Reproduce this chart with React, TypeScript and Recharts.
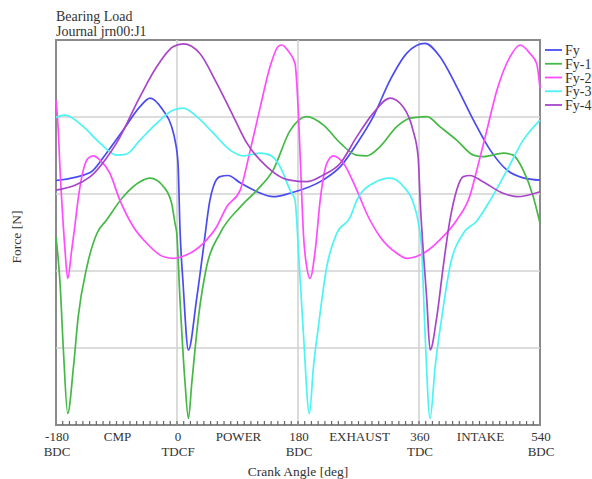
import { LineChart, Line, XAxis, YAxis, ReferenceLine, ReferenceArea } from 'recharts'

// crank angle [deg], force (chart has no force scale, 0..100 relative)
const FY: [number, number][] = [
  [-180, 63.5], [-129, 65.6], [-105, 70.6], [-80, 76.6], [-55, 82.7], [-40, 84.9], [-21, 81.8],
  [-8, 77.5], [-3, 74], [1.5, 68], [4.5, 50.6], [9, 36.9], [17, 19.5], [29, 32.5], [39, 45.5],
  [49, 58.4], [54, 61.9], [64, 64.5], [76, 64.8], [94, 62.9], [119, 60.6], [143, 59.3], [168, 60.2],
  [217, 63.6], [243, 67.1], [268, 73.2], [292, 80.1], [317, 89.6], [342, 96.6], [369, 99.1],
  [391, 95.7], [416, 87.9], [441, 79.2], [466, 71.4], [491, 66.2], [515, 64.2], [540, 63.6],
]

const FY1: [number, number][] = [
  [-180, 48.9], [-174, 36.9], [-169, 19.5], [-162.6, 3.0], [-154, 15.1], [-147, 28.1], [-134, 41.1],
  [-119, 49.8], [-105, 53.2], [-80, 59.3], [-55, 63.2], [-40, 64.1], [-20, 61.9], [-8, 57.6],
  [-3, 52.4], [-0.4, 49.8], [4.5, 32.5], [12, 10.9], [17, 1.7], [22, 10.9], [32, 28.1], [44, 41.1],
  [64, 49.8], [94, 56.6], [119, 61], [143, 66.2], [168, 76.4], [193, 80.1], [218, 77.9], [243, 73.2],
  [267, 70.1], [282, 69.9], [302, 72.3], [327, 77.5], [347, 79.7], [372, 80.1], [391, 77.5],
  [416, 74], [441, 70.1], [456, 69.7], [486, 70.6], [500, 70.1], [515, 66.2], [530, 59.3], [540, 52.4],
]

const FY2: [number, number][] = [
  [-180, 84.4], [-176.6, 76.6], [-174, 66.2], [-171.5, 58.4], [-166.6, 45.5], [-162.6, 38.1],
  [-156.6, 45.5], [-151.7, 52], [-146.8, 59], [-139.4, 66.2], [-132, 69.3], [-124.5, 69.9],
  [-114.5, 68.8], [-100, 65.4], [-85, 58.4], [-65, 51.5], [-45, 47.2], [-20, 43.7], [-5, 43.3],
  [14.5, 44.2], [39, 47.2], [59, 51.5], [74, 56.7], [94, 61], [109, 71.4], [124, 82.7], [138.5, 93.1],
  [151, 98.4], [156, 98.7], [166, 97], [175.6, 93.9], [180.6, 81], [185.6, 59.3], [188, 49.8],
  [193, 41.1], [198, 38.1], [205.7, 45.5], [213, 58.4], [223, 68], [232.6, 69.9], [247.5, 68],
  [267.5, 61], [282, 55], [302, 48.9], [327, 44.6], [342, 43.3], [366.6, 44.6], [391, 48.1],
  [416, 53.2], [436, 59.7], [446, 66.2], [461, 76.6], [476, 87], [495.6, 95.7], [510.5, 98.7],
  [525, 96.5], [535, 93.9], [540, 87.4],
]

const FY3: [number, number][] = [
  [-180, 79.9], [-166.6, 80.5], [-139.4, 77.5], [-114.5, 73.2], [-89.7, 70.1], [-74.8, 70.4],
  [-55, 74], [-30, 78.4], [-5.4, 81.8], [9.4, 82.3], [29.4, 80.1], [54, 75.8], [79, 71.4], [98.7, 69.9],
  [123.6, 70.6], [138.5, 70.1], [153.3, 67.1], [168.2, 61], [175.6, 58.4], [180.6, 45.5], [188, 23.9],
  [196.9, 3.0], [203, 15.1], [210.3, 25.5], [222.8, 41.1], [237.7, 49.8], [257.5, 53.9], [267.5, 58.4],
  [292, 62.8], [317, 64.1], [337, 61.9], [351.7, 57.6], [359.2, 52.4], [364, 45.5], [369, 23.9],
  [376.5, 1.7], [384, 15.1], [394, 28.1], [406, 41.1], [426, 49.8], [446, 53], [466, 58.4],
  [491, 66.2], [515, 74], [540, 79.2],
]

const FY4: [number, number][] = [
  [-180, 61], [-129, 64.5], [-105, 69.3], [-90, 73.2], [-55, 85.3], [-30, 93.1], [-5.4, 98.3],
  [9.4, 99], [34, 96.5], [59, 88.8], [84, 80.1], [104, 73.2], [133.5, 67.1], [158, 64.1], [168, 63.6],
  [193, 63.2], [217, 64.9], [243, 68], [267.5, 74.9], [292, 81], [317, 84.9], [336, 82.7], [351, 76.6],
  [358.7, 69.7], [361.7, 58.4], [371.6, 32.5], [376.5, 19.5], [386.5, 28.1], [396, 41.1], [406, 53.2],
  [416, 61], [426, 64.5], [436, 64.8], [455, 63.2], [485, 60.2], [505.6, 59.3], [540, 60.6],
]

const SERIES = [
  { name: 'Fy', color: '#4b4bf2', pts: FY },
  { name: 'Fy-1', color: '#45b945', pts: FY1 },
  { name: 'Fy-2', color: '#ff4cff', pts: FY2 },
  { name: 'Fy-3', color: '#4cf4f4', pts: FY3 },
  { name: 'Fy-4', color: '#a846c8', pts: FY4 },
]

const MAJOR_TICKS = [-180, -90, 0, 90, 180, 270, 360, 450, 540]
const TICK_TOP = ['-180', 'CMP', '0', 'POWER', '180', 'EXHAUST', '360', 'INTAKE', '540']
const TICK_BOTTOM = ['BDC', '', 'TDCF', '', 'BDC', '', 'TDC', '', 'BDC']
const GRID_X = [0, 180, 360]
const GRID_Y = [20, 40, 60, 80]

const minorTicks: number[] = []
for (let a = -180; a <= 540; a += 10) minorTicks.push(a)

const FONT = '"Liberation Serif", "Times New Roman", serif'
const TEXT = '#333'

function AngleTick({ x, payload }: any) {
  const i = MAJOR_TICKS.indexOf(payload.value)
  const edge = payload.value === -180 || payload.value === 540
  return (
    <g>
      {!edge && <line x1={x} y1={425} x2={x} y2={421} stroke="#666" strokeWidth={1.2} />}
      {i >= 0 && (
        <text x={x + 1} y={441} textAnchor="middle" fontFamily={FONT} fontSize={13} fill={TEXT}>
          {TICK_TOP[i]}
        </text>
      )}
      {i >= 0 && TICK_BOTTOM[i] && (
        <text x={x + 1} y={455.5} textAnchor="middle" fontFamily={FONT} fontSize={13} fill={TEXT}>
          {TICK_BOTTOM[i]}
        </text>
      )}
    </g>
  )
}

export default function App() {
  return (
    <div style={{ position: 'relative', width: 592, height: 479, background: '#fff' }}>
      <style>{'body{margin:0;overflow:hidden;background:#fff}'}</style>
      <LineChart width={592} height={479} margin={{ top: 40, right: 52, bottom: 24, left: 56 }}>
        <XAxis
          dataKey="a"
          type="number"
          domain={[-180, 540]}
          ticks={minorTicks}
          interval={0}
          allowDuplicatedCategory={false}
          axisLine={false}
          tickLine={false}
          tickSize={0}
          tickMargin={0}
          height={30}
          tick={<AngleTick />}
        />
        <YAxis type="number" domain={[0, 100]} hide />
        {GRID_Y.map((v) => (
          <ReferenceLine key={'y' + v} y={v} stroke="#d2d2d2" strokeWidth={1.6} />
        ))}
        {GRID_X.map((v) => (
          <ReferenceLine key={'x' + v} x={v} stroke="#d2d2d2" strokeWidth={1.6} />
        ))}
        <ReferenceArea x1={-180} x2={540} y1={0} y2={100} fill="none" fillOpacity={0} stroke="#8a8a8a" strokeWidth={2} />
        {SERIES.map((s) => (
          <Line
            key={s.name}
            data={s.pts.map(([a, f]) => ({ a, f }))}
            dataKey="f"
            name={s.name}
            type="monotone"
            stroke={s.color}
            strokeWidth={1.7}
            dot={false}
            isAnimationActive={false}
          />
        ))}
      </LineChart>
      <svg width={592} height={479} style={{ position: 'absolute', left: 0, top: 0, pointerEvents: 'none' }}>
        <g fontFamily={FONT} fill={TEXT} fontSize={14}>
          <text x={56} y={20.5}>Bearing Load</text>
          <text x={56} y={35.5}>Journal  jrn00:J1</text>
          <text x={298} y={476} textAnchor="middle" fontSize={13.5}>Crank Angle [deg]</text>
          <text transform="translate(21,237) rotate(-90)" textAnchor="middle" fontSize={13.5}>Force [N]</text>
          {SERIES.map((s, i) => (
            <g key={s.name}>
              <line x1={545} x2={562} y1={50 + i * 13.75} y2={50 + i * 13.75} stroke={s.color} strokeWidth={1.8} />
              <text x={565} y={55 + i * 13.75}>{s.name}</text>
            </g>
          ))}
        </g>
      </svg>
    </div>
  )
}
